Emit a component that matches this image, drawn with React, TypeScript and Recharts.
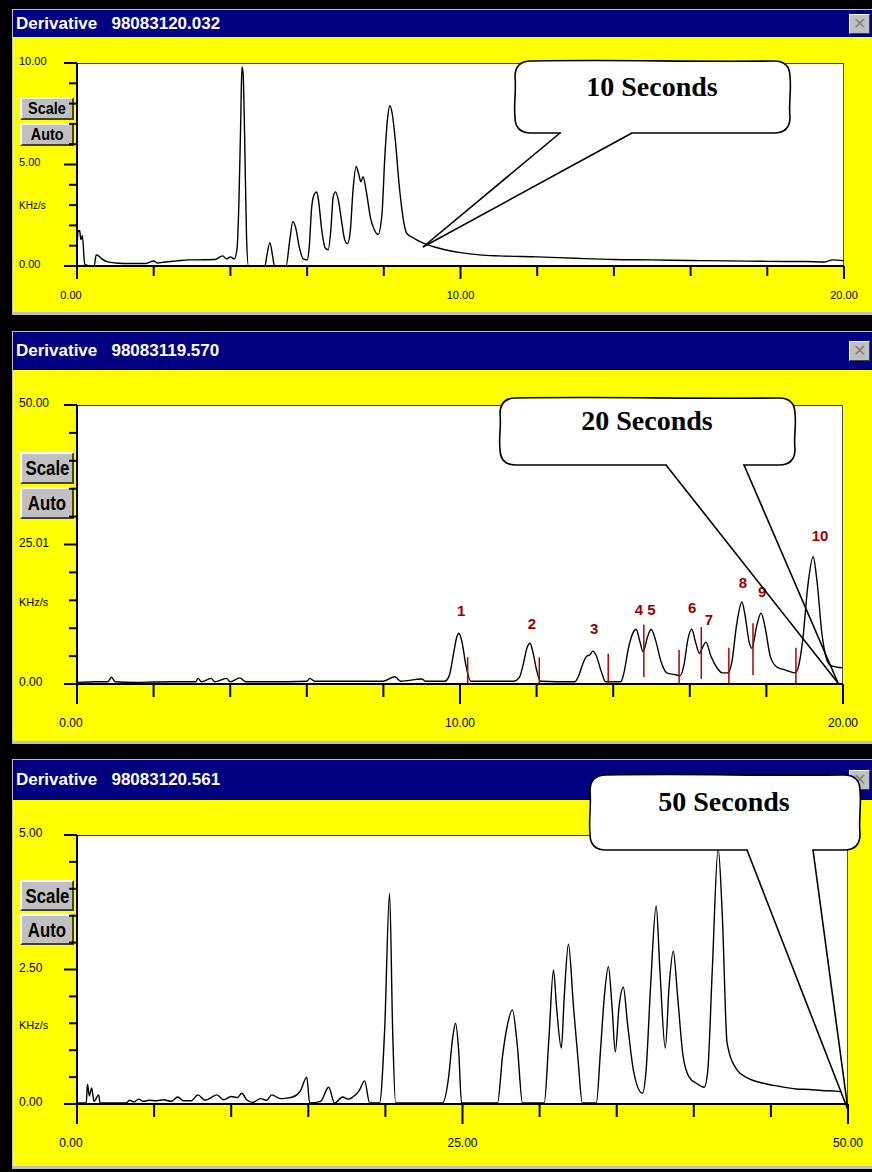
import React from "react";
import { ComposedChart, Line, XAxis, YAxis, ReferenceLine, ReferenceDot } from "recharts";

const NAVY = "#000080";
const YELLOW = "#ffff00";
const PEAK_RED = "#990000";
const SANS = "'Liberation Sans', Arial, sans-serif";

// ---- panel 1: 10 s scan, [time, KHz/s]
const p1Trace = [
  [0, 0.9], [0.03, 1.7], [0.07, 1.75], [0.1, 1.3], [0.14, 1.5], [0.2, 0.1], [0.3, 0.02], [0.45, 0.02],
  [0.5, 0.55], [0.56, 0.5], [0.65, 0.35], [0.8, 0.2], [1.0, 0.15], [1.4, 0.12], [1.8, 0.12], [2.0, 0.25],
  [2.1, 0.15], [2.3, 0.2], [2.6, 0.25], [2.9, 0.3], [3.1, 0.3], [3.6, 0.32], [3.8, 0.5], [3.9, 0.35],
  [4.0, 0.45], [4.1, 0.35], [4.17, 0.8], [4.22, 3.0], [4.27, 7.2], [4.3, 9.8], [4.33, 9.5], [4.37, 6.5],
  [4.42, 1.5], [4.47, 0], [4.9, 0], [4.95, 0.5], [5.03, 1.15], [5.1, 0.5], [5.15, 0], [5.45, 0],
  [5.55, 1.3], [5.63, 2.2], [5.7, 1.9], [5.8, 0.9], [5.9, 0.35], [6.0, 0.3], [6.05, 0.8], [6.12, 2.9],
  [6.18, 3.5], [6.25, 3.65], [6.3, 3.2], [6.38, 1.8], [6.47, 0.9], [6.55, 0.8], [6.62, 1.8], [6.68, 3.4],
  [6.74, 3.65], [6.82, 3.2], [6.9, 2.2], [6.98, 1.3], [7.05, 1.1], [7.12, 1.6], [7.2, 3.8], [7.28, 4.9],
  [7.35, 4.5], [7.4, 4.15], [7.46, 4.4], [7.55, 3.6], [7.65, 2.4], [7.75, 1.8], [7.85, 1.55], [7.95, 2.5],
  [8.03, 5.5], [8.1, 7.3], [8.16, 7.9], [8.22, 7.5], [8.3, 6.2], [8.4, 4.0], [8.5, 2.4], [8.6, 1.6],
  [8.8, 1.35], [9.0, 1.15], [9.3, 0.95], [9.6, 0.8], [10.0, 0.66], [10.5, 0.55], [11.0, 0.5], [12.0, 0.45],
  [13.0, 0.38], [14.0, 0.32], [15.0, 0.3], [16.0, 0.27], [17.0, 0.25], [18.0, 0.23], [19.0, 0.22], [19.5, 0.2],
  [19.7, 0.3], [20.0, 0.25],
];
const p1XTicks = [0, 2, 4, 6, 8, 10, 12, 14, 16, 18, 20];
const p1XLabelAt = [0, 10, 20];
const p1XLabels = ["0.00", "10.00", "20.00"];
const p1YTicks = [0, 1, 2, 3, 4, 5, 6, 7, 8, 9, 10];
const p1YLabelAt = [0, 5, 10];
const p1YLabels = ["0.00", "5.00", "10.00"];

// ---- panel 2: 20 s scan
const p2Trace = [
  [0, 0.3], [0.5, 0.4], [0.8, 0.4], [0.9, 1.2], [1.0, 0.4], [1.5, 0.3], [2.0, 0.35], [2.5, 0.4],
  [3.1, 0.4], [3.16, 1.0], [3.25, 0.4], [3.5, 1.0], [3.6, 0.4], [3.9, 1.0], [4.0, 0.4], [4.25, 1.1],
  [4.4, 0.4], [5.0, 0.4], [6.0, 0.5], [6.08, 1.0], [6.2, 0.5], [7.0, 0.5], [8.0, 0.5], [8.3, 1.3],
  [8.45, 0.5], [9.0, 0.9], [9.1, 0.5], [9.6, 0.5], [9.72, 1.5], [9.82, 5.0], [9.92, 8.5], [9.97, 9.1],
  [10.05, 7.6], [10.15, 3.5], [10.28, 0.5], [11.4, 0.5], [11.55, 1.2], [11.65, 3.5], [11.75, 6.5], [11.83, 7.3],
  [11.9, 5.8], [12.0, 2.5], [12.1, 0.5], [13.0, 0.4], [13.1, 1.5], [13.2, 3.5], [13.3, 4.9], [13.4, 5.3],
  [13.47, 5.9], [13.55, 5.2], [13.7, 2.0], [13.8, 0.4], [14.2, 0.4], [14.28, 2.0], [14.4, 6.5], [14.52, 9.2],
  [14.6, 9.8], [14.7, 7.5], [14.78, 5.8], [14.9, 8.5], [14.99, 9.8], [15.1, 8.0], [15.25, 4.0], [15.4, 2.0],
  [15.6, 1.7], [15.75, 1.5], [15.85, 3.5], [15.95, 8.0], [16.05, 9.8], [16.15, 7.5], [16.25, 5.5], [16.33, 6.5],
  [16.42, 7.5], [16.55, 5.0], [16.7, 3.0], [16.85, 2.0], [17.0, 2.0], [17.1, 4.0], [17.22, 10.5], [17.36, 14.7],
  [17.45, 12.0], [17.55, 7.5], [17.62, 6.4], [17.75, 10.5], [17.86, 12.7], [17.97, 10.0], [18.1, 5.0], [18.28, 3.0],
  [18.5, 2.5], [18.75, 2.0], [18.85, 3.5], [18.95, 8.0], [19.08, 17.5], [19.22, 22.8], [19.32, 18.5], [19.45, 9.0],
  [19.55, 5.0], [19.66, 3.4], [19.85, 3.0], [20.0, 2.9],
];
const p2XTicks = [0, 2, 4, 6, 8, 10, 12, 14, 16, 18, 20];
const p2XLabelAt = [0, 10, 20];
const p2XLabels = ["0.00", "10.00", "20.00"];
const p2YTicks = [0, 5, 10, 15, 20, 25, 30, 35, 40, 45, 50];
const p2YLabelAt = [0, 25, 50];
const p2YLabels = ["0.00", "25.01", "50.00"];

// integration markers (time, low, high)
const markerTimes = [10.2, 12.07, 13.87, 14.8, 15.72, 16.3, 17.02, 17.65, 18.77];
const markerLow = [0, 0, 0, 1.25, 0, 0.9, 0, 1.6, 0];
const markerHigh = [4.8, 4.8, 5.4, 10.6, 6.1, 10.2, 6.5, 10.9, 6.5];

// peak numbers
const peakNames = ["1", "2", "3", "4", "5", "6", "7", "8", "9", "10"];
const peakLabelTime = [10.03, 11.88, 13.5, 14.67, 15.0, 16.06, 16.5, 17.39, 17.89, 19.4];
const peakLabelLevel = [12.9, 10.6, 9.7, 13.1, 13.1, 13.4, 11.3, 17.9, 16.3, 26.3];

// ---- panel 3: 50 s scan
const p3Trace = [
  [0, 0.02], [0.6, 0.02], [0.68, 0.37], [0.8, 0.15], [0.95, 0.3], [1.1, 0.05], [1.4, 0.17], [1.5, 0.02],
  [3.2, 0.02], [3.4, 0.07], [3.7, 0.04], [4.0, 0.09], [4.3, 0.05], [4.7, 0.07], [5.1, 0.06], [5.6, 0.08],
  [6.1, 0.05], [6.54, 0.13], [6.9, 0.06], [7.4, 0.06], [7.84, 0.17], [8.3, 0.07], [8.7, 0.12], [9.07, 0.17],
  [9.5, 0.08], [10.0, 0.14], [10.4, 0.12], [10.69, 0.2], [11.0, 0.08], [11.4, 0.03], [11.9, 0.1], [12.3, 0.07],
  [12.63, 0.17], [13.2, 0.1], [13.6, 0.11], [13.99, 0.13], [14.5, 0.25], [14.9, 0.5], [15.09, 0.02], [15.8, 0.05],
  [16.32, 0.31], [16.7, 0.02], [17.23, 0.13], [17.6, 0.09], [17.88, 0.13], [18.3, 0.25], [18.65, 0.43], [18.98, 0.02],
  [19.62, 0.02], [19.95, 1.37], [20.27, 3.92], [20.47, 1.37], [20.66, 0.02], [23.7, 0.02], [24.1, 0.5], [24.35, 1.2],
  [24.55, 1.5], [24.75, 1.0], [24.94, 0.02], [27.27, 0.02], [27.6, 0.9], [27.9, 1.45], [28.24, 1.75], [28.55, 1.1],
  [28.89, 0.02], [30.3, 0.02], [30.6, 1.2], [30.9, 2.49], [31.1, 1.8], [31.41, 1.04], [31.6, 2.0], [31.87, 2.97],
  [32.2, 1.8], [32.5, 0.8], [32.77, 0.02], [33.68, 0.02], [33.95, 1.0], [34.2, 2.0], [34.46, 2.55], [34.7, 1.8],
  [34.91, 0.97], [35.15, 1.8], [35.43, 2.17], [35.7, 1.5], [36.1, 0.6], [36.66, 0.2], [36.9, 0.6], [37.2, 2.2],
  [37.56, 3.68], [37.8, 2.5], [38.15, 1.04], [38.4, 2.2], [38.67, 2.84], [38.95, 2.0], [39.3, 0.9], [39.7, 0.5],
  [40.2, 0.38], [40.67, 0.31], [40.9, 0.6], [41.2, 2.5], [41.58, 4.75], [41.85, 3.5], [42.16, 1.13], [42.81, 0.63],
  [43.5, 0.48], [44.43, 0.39], [45.5, 0.33], [46.63, 0.28], [47.5, 0.27], [48.3, 0.25], [49.2, 0.24], [49.6, 0.22],
];
const p3XTicks = [0, 5, 10, 15, 20, 25, 30, 35, 40, 45, 50];
const p3XLabelAt = [0, 25, 50];
const p3XLabels = ["0.00", "25.00", "50.00"];
const p3YTicks = [0, 0.5, 1, 1.5, 2, 2.5, 3, 3.5, 4, 4.5, 5];
const p3YLabelAt = [0, 2.5, 5];
const p3YLabels = ["0.00", "2.50", "5.00"];

const titles = ["Derivative   98083120.032", "Derivative   98083119.570", "Derivative   98083120.561"];
const calloutText = ["10 Seconds", "20 Seconds", "50 Seconds"];

const toRows = (trace: number[][]) => trace.map(([t, v]) => ({ t, v }));

function WinButton({ top, h, label, big }: { top: number; h: number; label: string; big: boolean }) {
  return (
    <div
      style={{
        position: "absolute", left: 20, top, width: 54, height: h, boxSizing: "border-box",
        background: "#c0c0c0", borderTop: "2px solid #fff", borderLeft: "2px solid #fff",
        borderRight: "2px solid #404040", borderBottom: "2px solid #404040",
        display: "flex", alignItems: "center", justifyContent: "center",
        fontFamily: SANS, fontWeight: "bold", fontSize: big ? 21 : 16, color: "#000",
      }}
    >
      <span style={{ display: "inline-block", transform: big ? "scaleX(0.8)" : "scaleX(0.9)" }}>{label}</span>
    </div>
  );
}

function CloseBox({ top, left, h }: { top: number; left: number; h: number }) {
  return (
    <div
      style={{
        position: "absolute", left, top, width: 21, height: h, boxSizing: "border-box",
        background: "#c0c0c0", borderTop: "1px solid #fff", borderLeft: "1px solid #fff",
        borderRight: "1px solid #404040", borderBottom: "1px solid #404040",
        color: "#808080", fontFamily: SANS, fontSize: 16, lineHeight: `${h - 2}px`, textAlign: "center",
      }}
    >
      ✕
    </div>
  );
}

interface PanelProps {
  title: string;
  frameTop: number;
  titleH: number;
  yellowBottom: number;
  plot: { l: number; t: number; r: number; b: number };
  big: boolean;
  buttonsTop: number;
  buttonH: number;
  unitY: number;
  trace: number[][];
  xMax: number;
  yMax: number;
  xTicks: number[];
  xLabelAt: number[];
  xLabels: string[];
  yTicks: number[];
  yLabelAt: number[];
  yLabels: string[];
  extras?: React.ReactNode[];
}

function Panel(p: PanelProps) {
  const rows = toRows(p.trace);
  const plotH = p.plot.b - p.plot.t;
  const chartH = 10 + plotH + 60;
  const axisY = 10 + plotH;
  const fs = p.big ? 12 : 11;
  const xMajor = p.big ? 20 : 13;
  const xMinor = p.big ? 13 : 10;
  const xLabelDy = p.big ? 40 : 30;

  const yTick = (props: any) => {
    const { y, payload } = props;
    const i = p.yLabelAt.indexOf(payload.value);
    return (
      <g>
        <line x1={i >= 0 ? 64 : 69} x2={77} y1={y} y2={y} stroke="#000" strokeWidth={2} />
        {i >= 0 && (
          <text x={19} y={y - 1} fontSize={fs} fontFamily={SANS} fill="#000" dominantBaseline="middle">
            {p.yLabels[i]}
          </text>
        )}
      </g>
    );
  };

  const xTick = (props: any) => {
    const { x, payload } = props;
    const i = p.xLabelAt.indexOf(payload.value);
    return (
      <g>
        <line x1={x} x2={x} y1={axisY} y2={axisY + (i >= 0 ? xMajor : xMinor)} stroke="#000" strokeWidth={2} />
        {i >= 0 && (
          <text x={i === 0 ? x - 6 : x} y={axisY + xLabelDy} fontSize={fs} fontFamily={SANS} fill="#000"
            textAnchor="middle" dominantBaseline="middle">
            {p.xLabels[i]}
          </text>
        )}
      </g>
    );
  };

  return (
    <>
      <div style={{ position: "absolute", left: 12, right: 0, top: p.frameTop - 1, height: p.yellowBottom - p.frameTop + 4, background: "#c0c0c0" }} />
      <div
        style={{
          position: "absolute", left: 13, right: 0, top: p.frameTop, height: p.titleH, background: NAVY,
          color: "#fff", fontFamily: SANS, fontWeight: "bold", fontSize: 17, whiteSpace: "pre",
          lineHeight: `${p.titleH}px`, paddingLeft: 3, boxSizing: "border-box",
        }}
      >
        {p.title}
      </div>
      <CloseBox top={p.frameTop + (p.titleH - 20) / 2} left={849} h={20} />
      <div style={{ position: "absolute", left: 13, right: 0, top: p.frameTop + p.titleH, height: p.yellowBottom - p.frameTop - p.titleH, background: YELLOW }} />
      <div
        style={{
          position: "absolute", left: p.plot.l, top: p.plot.t, width: p.plot.r - p.plot.l, height: plotH,
          background: "#fff", borderTop: "1px solid #333", borderRight: "1px solid #555", boxSizing: "border-box",
        }}
      />
      <WinButton top={p.buttonsTop} h={p.buttonH} label="Scale" big={p.big} />
      <WinButton top={p.buttonsTop + p.buttonH + 3} h={p.buttonH} label="Auto" big={p.big} />
      <div style={{ position: "absolute", left: 19, top: p.unitY - 7, fontFamily: SANS, fontSize: p.big ? 11 : 10, color: "#000" }}>
        KHz/s
      </div>
      <div style={{ position: "absolute", left: 0, top: p.plot.t - 10 }}>
        <ComposedChart
          width={872}
          height={chartH}
          data={rows}
          margin={{ top: 10, right: 872 - p.plot.r, bottom: 0, left: 0 }}
        >
          <XAxis
            dataKey="t"
            type="number"
            domain={[0, p.xMax]}
            ticks={p.xTicks}
            interval={0}
            height={60}
            tickLine={false}
            axisLine={{ stroke: "#000", strokeWidth: 2 }}
            tick={xTick}
            allowDataOverflow
          />
          <YAxis
            type="number"
            domain={[0, p.yMax]}
            ticks={p.yTicks}
            interval={0}
            width={77}
            tickLine={false}
            axisLine={{ stroke: "#000", strokeWidth: 2 }}
            tick={yTick}
            allowDataOverflow
          />
          <Line
            type="monotone"
            dataKey="v"
            stroke="#000"
            strokeWidth={1.4}
            dot={false}
            activeDot={false}
            isAnimationActive={false}
          />
          {p.extras}
        </ComposedChart>
      </div>
    </>
  );
}

function bubblePath(l: number, t: number, r: number, b: number) {
  const k = 16;
  const h = b - t;
  return [
    `M${l + k},${t}`,
    `C${l + (r - l) * 0.4},${t - 1.5} ${l + (r - l) * 0.6},${t + 1} ${r - k},${t}`,
    `Q${r},${t} ${r},${t + k}`,
    `C${r + 1.5},${t + h * 0.4} ${r - 1.5},${t + h * 0.6} ${r},${b - k}`,
    `Q${r},${b} ${r - k},${b}`,
    `L${l + k},${b}`,
    `Q${l},${b} ${l},${b - k}`,
    `C${l - 1.5},${t + h * 0.6} ${l + 1.5},${t + h * 0.4} ${l},${t + k}`,
    `Q${l},${t} ${l + k},${t}`,
    "Z",
  ].join(" ");
}

const bubbles = [
  { l: 515, t: 61, r: 790, b: 133, a: 560, c: 632, tip: [423, 247], tx: 652, ty: 90 },
  { l: 500, t: 398, r: 795, b: 465, a: 666, c: 744, tip: [838, 683], tx: 647, ty: 424 },
  { l: 590, t: 775, r: 860, b: 850, a: 747, c: 813, tip: [848, 1110], tx: 724, ty: 805 },
];

function Callouts() {
  return (
    <svg width={872} height={1172} style={{ position: "absolute", left: 0, top: 0, pointerEvents: "none" }}>
      {bubbles.map((bb, i) => (
        <g key={i}>
          <path d={bubblePath(bb.l, bb.t, bb.r, bb.b)} fill="#fff" stroke="#000" strokeWidth={1.6} />
          <line x1={bb.a + 1} x2={bb.c - 1} y1={bb.b} y2={bb.b} stroke="#fff" strokeWidth={3} />
          <line x1={bb.a} y1={bb.b} x2={bb.tip[0]} y2={bb.tip[1]} stroke="#000" strokeWidth={1.6} />
          <line x1={bb.c} y1={bb.b} x2={bb.tip[0]} y2={bb.tip[1]} stroke="#000" strokeWidth={1.6} />
          <text x={bb.tx} y={bb.ty} textAnchor="middle" dominantBaseline="middle"
            fontFamily="'Liberation Serif', 'Times New Roman', serif" fontWeight="bold" fontSize={28} fill="#000">
            {calloutText[i]}
          </text>
        </g>
      ))}
    </svg>
  );
}

export default function App() {
  const markers = markerTimes.map((t, i) => (
    <ReferenceLine
      key={`m${i}`}
      segment={[{ x: t, y: markerLow[i] }, { x: t, y: markerHigh[i] }]}
      stroke="#b00000"
      strokeWidth={1.5}
    />
  ));
  const peakTags = peakNames.map((name, i) => (
    <ReferenceDot
      key={`p${i}`}
      x={peakLabelTime[i]}
      y={peakLabelLevel[i]}
      r={0}
      shape={(props: any) => (
        <text x={props.cx} y={props.cy} textAnchor="middle" dominantBaseline="middle"
          fontFamily={SANS} fontWeight="bold" fontSize={15} fill={PEAK_RED}>
          {name}
        </text>
      )}
    />
  ));

  return (
    <div style={{ position: "relative", width: 872, height: 1172, background: "#000", overflow: "hidden" }}>
      <style>{"body{margin:0}"}</style>
      <Panel
        title={titles[0]} frameTop={10} titleH={27} yellowBottom={312}
        plot={{ l: 77, t: 63, r: 844, b: 266 }} big={false} buttonsTop={97} buttonH={23} unitY={207}
        trace={p1Trace} xMax={20} yMax={10}
        xTicks={p1XTicks} xLabelAt={p1XLabelAt} xLabels={p1XLabels}
        yTicks={p1YTicks} yLabelAt={p1YLabelAt} yLabels={p1YLabels}
      />
      <Panel
        title={titles[1]} frameTop={332} titleH={38} yellowBottom={741}
        plot={{ l: 77, t: 405, r: 843, b: 684 }} big={true} buttonsTop={452} buttonH={32} unitY={603}
        trace={p2Trace} xMax={20} yMax={50}
        xTicks={p2XTicks} xLabelAt={p2XLabelAt} xLabels={p2XLabels}
        yTicks={p2YTicks} yLabelAt={p2YLabelAt} yLabels={p2YLabels}
        extras={[...markers, ...peakTags]}
      />
      <Panel
        title={titles[2]} frameTop={760} titleH={40} yellowBottom={1166}
        plot={{ l: 77, t: 835, r: 848, b: 1104 }} big={true} buttonsTop={880} buttonH={31} unitY={1026}
        trace={p3Trace} xMax={50} yMax={5}
        xTicks={p3XTicks} xLabelAt={p3XLabelAt} xLabels={p3XLabels}
        yTicks={p3YTicks} yLabelAt={p3YLabelAt} yLabels={p3YLabels}
      />
      <Callouts />
    </div>
  );
}
